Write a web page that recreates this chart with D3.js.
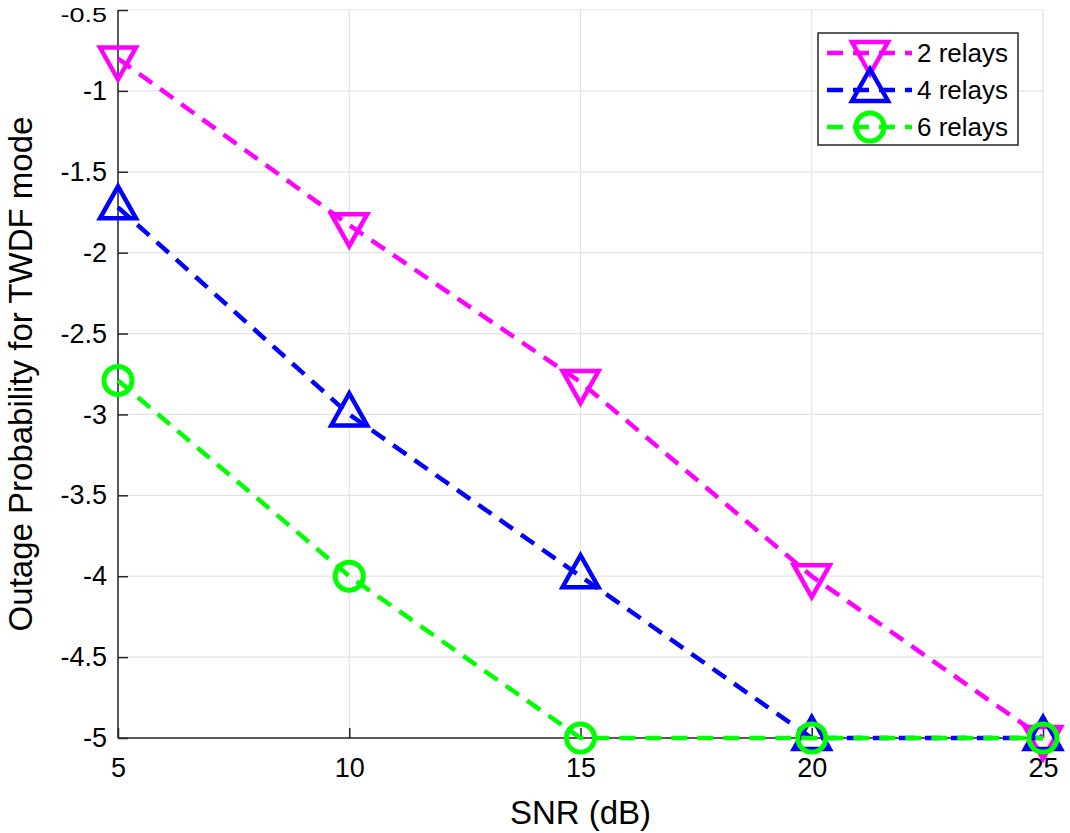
<!DOCTYPE html>
<html>
<head>
<meta charset="utf-8">
<script src="https://cdn.jsdelivr.net/npm/d3@7"></script>
<style>
  body { margin: 0; background: #fff; }
  svg text { font-family: "Liberation Sans", Arial, sans-serif; fill: #000; }
</style>
</head>
<body>
<div id="chart"></div>
<script>
// data
var snr = [5, 10, 15, 20, 25];
var relays2 = [-0.8, -1.83, -2.8, -4.0, -5.0];
var relays4 = [-1.72, -3.0, -4.0, -5.0, -5.0];
var relays6 = [-2.79, -4.0, -5.0, -5.0, -5.0];
var seriesNames = ['2 relays', '4 relays', '6 relays'];
var xTicks = [5, 10, 15, 20, 25];
var yTicks = [-0.5, -1, -1.5, -2, -2.5, -3, -3.5, -4, -4.5, -5];

var width = 1070, height = 833;
var margin = {left: 118, right: 27, top: 10, bottom: 95};

var svg = d3.select('#chart').append('svg').attr('width', width).attr('height', height);

var x = d3.scaleLinear().domain([5, 25]).range([margin.left, width - margin.right]);
var y = d3.scaleLinear().domain([-5, -0.5]).range([height - margin.bottom, margin.top]);

// grid
var grid = svg.append('g').attr('class', 'grid');
grid.selectAll('line.gx').data(xTicks).enter().append('line').attr('class', 'gx')
    .attr('x1', function(d) { return x(d); }).attr('x2', function(d) { return x(d); })
    .attr('y1', y(-5)).attr('y2', y(-0.5))
    .attr('stroke', '#e3e3e3').attr('stroke-width', 1.2);
grid.selectAll('line.gy').data(yTicks).enter().append('line').attr('class', 'gy')
    .attr('y1', function(d) { return y(d); }).attr('y2', function(d) { return y(d); })
    .attr('x1', x(5)).attr('x2', x(25))
    .attr('stroke', '#e3e3e3').attr('stroke-width', 1.2);

// axes, ticks inward, plain hyphen minus like the original
var fmt = function(d) { return String(d); };
var xAxis = d3.axisBottom(x).tickValues(xTicks).tickSize(-10).tickPadding(20).tickFormat(fmt);
var yAxis = d3.axisLeft(y).tickValues(yTicks).tickSize(-10).tickPadding(11).tickFormat(fmt);

var gx = svg.append('g').attr('transform', 'translate(0,' + y(-5) + ')').call(xAxis);
var gy = svg.append('g').attr('transform', 'translate(' + x(5) + ',0)').call(yAxis);
[gx, gy].forEach(function(g) {
    g.select('.domain').attr('stroke', '#262626').attr('stroke-width', 1.5);
    g.selectAll('.tick line').attr('stroke', '#262626').attr('stroke-width', 1.5);
    g.selectAll('.tick text').style('font-size', '27px').attr('fill', '#000');
});
gy.select('.domain').attr('d', 'M0,' + y(-0.5) + 'V' + y(-5));
gx.select('.domain').attr('d', 'M' + x(5) + ',0H' + x(25));

// top label sits squeezed against the edge in the original
gy.selectAll('.tick text').filter(function(d) { return d == -0.5; })
    .attr('dy', null).attr('y', 0).attr('transform', 'translate(0,11) scale(1,0.75)');

// axis labels
svg.append('text').attr('x', (x(5) + x(25)) / 2).attr('y', 824)
    .style('text-anchor', 'middle').style('font-size', '33px').text('SNR (dB)');
svg.append('text').attr('transform', 'translate(32,' + (y(-0.5) + y(-5)) / 2 + ') rotate(-90)')
    .style('text-anchor', 'middle').style('font-size', '33px').text('Outage Probability for TWDF mode');

var series = [
    {name: seriesNames[0], values: relays2, color: '#ff00ff', marker: 'down'},
    {name: seriesNames[1], values: relays4, color: '#0000ff', marker: 'up'},
    {name: seriesNames[2], values: relays6, color: '#00ff00', marker: 'circle'}
];

// triangle: half width 18, base 11 off centre, apex 21 off centre
var markerPath = function(type) {
    var hw = 18, b = 11, a = 21;
    if (type == 'down') {
        return 'M' + (-hw) + ',' + (-b) + 'L' + hw + ',' + (-b) + 'L0,' + a + 'Z';
    }
    return 'M' + (-hw) + ',' + b + 'L' + hw + ',' + b + 'L0,' + (-a) + 'Z';
};

var drawMarker = function(g, type, color) {
    if (type == 'circle') {
        g.append('circle').attr('r', 14).attr('fill', 'none').attr('stroke', color).attr('stroke-width', 5);
    } else {
        g.append('path').attr('d', markerPath(type)).attr('fill', 'none')
            .attr('stroke', color).attr('stroke-width', 4.5).attr('stroke-linejoin', 'miter');
    }
};

var line = d3.line().x(function(d) { return x(d[0]); }).y(function(d) { return y(d[1]); });

series.forEach(function(s) {
    var pts = d3.zip(snr, s.values);
    svg.append('path').datum(pts).attr('d', line).attr('fill', 'none')
        .attr('stroke', s.color).attr('stroke-width', 4.5).attr('stroke-dasharray', '16,10');
    svg.append('g').selectAll('g.mk').data(pts).enter().append('g').attr('class', 'mk')
        .attr('transform', function(d) { return 'translate(' + x(d[0]) + ',' + y(d[1]) + ')'; })
        .each(function() { drawMarker(d3.select(this), s.marker, s.color); });
});

// legend
var lg = svg.append('g').attr('transform', 'translate(818,33)');
lg.append('rect').attr('width', 200).attr('height', 112).attr('fill', '#fff')
    .attr('stroke', '#262626').attr('stroke-width', 1.5);
series.forEach(function(s, i) {
    var cy = 20 + i * 37;
    lg.append('line').attr('x1', 9).attr('x2', 94).attr('y1', cy).attr('y2', cy)
        .attr('stroke', s.color).attr('stroke-width', 4.5).attr('stroke-dasharray', '16,10');
    var m = lg.append('g').attr('transform', 'translate(52,' + cy + ')');
    drawMarker(m, s.marker, s.color);
    lg.append('text').attr('x', 99).attr('y', cy + 9).style('font-size', '26px').text(s.name);
});
</script>
</body>
</html>
